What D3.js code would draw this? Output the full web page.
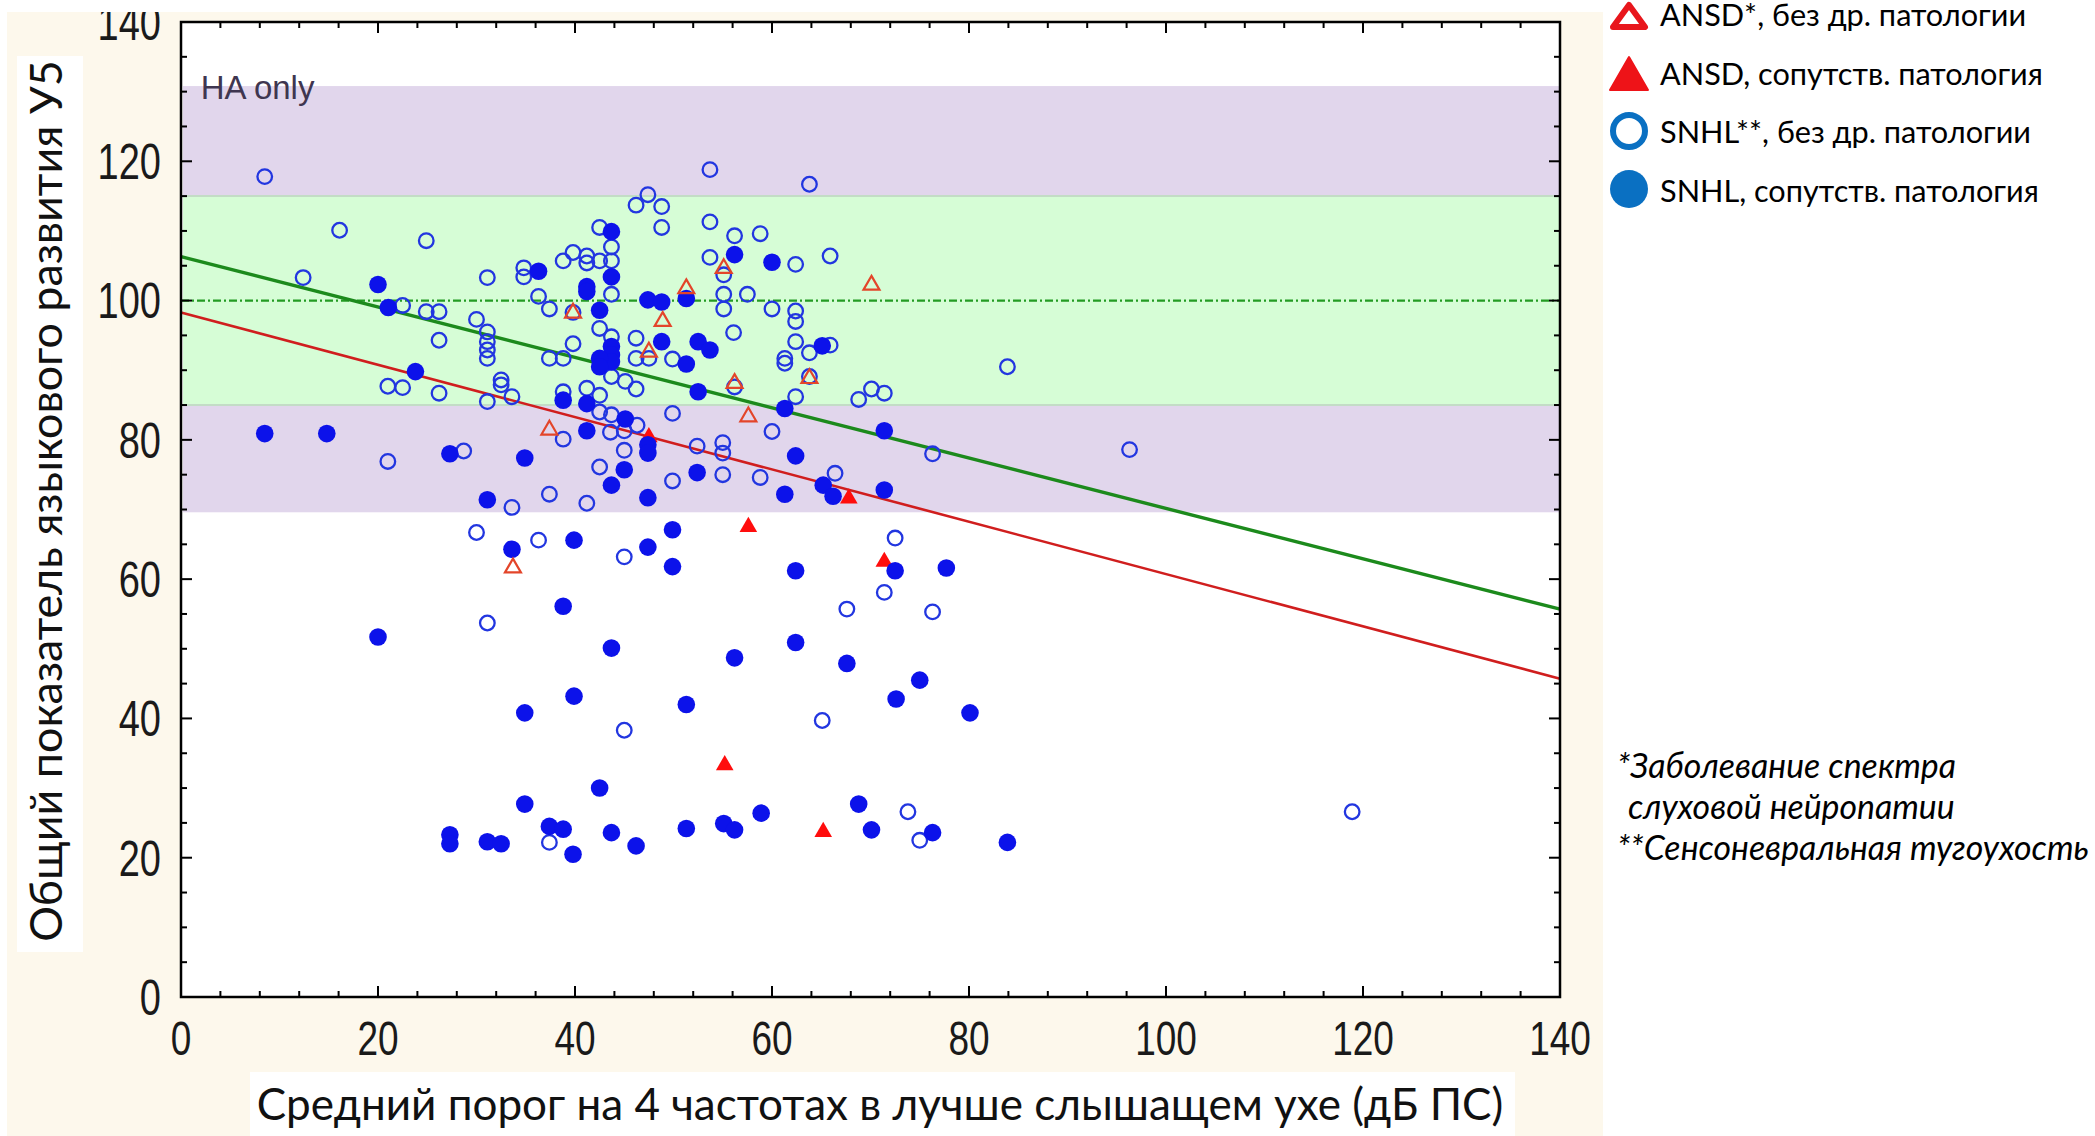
<!DOCTYPE html>
<html><head><meta charset="utf-8">
<script src="https://cdn.jsdelivr.net/npm/d3@7"></script>
<style>html,body{margin:0;padding:0;background:#fff;overflow:hidden}</style>
</head><body><svg id="c" width="2095" height="1136"></svg>
<script>
// ---------------- DATA ----------------
const xTicks = [0, 20, 40, 60, 80, 100, 120, 140];
const yTicks = [0, 20, 40, 60, 80, 100, 120, 140];
const xTitle = "Средний порог на 4 частотах в лучше слышащем ухе (дБ ПС)";
const yTitle = "Общий показатель языкового развития У5";
const bandLabel = "HA only";
const bandEdges = [69.6, 85, 115, 130.8];   // purple | green | purple
const refLevel = 100;
const fitNoPathology = [[0, 106.3], [140, 55.7]];
const fitPathology = [[0, 98.3], [140, 45.7]];
const legendLabels = ["ANSD*, без др. патологии", "ANSD, сопутств. патология", "SNHL**, без др. патологии", "SNHL, сопутств. патология"];
const footnotes = ["*Заболевание спектра", "слуховой нейропатии", "**Сенсоневральная тугоухость"];

const snhlNoPathology = [
 [8.5,117.8],[16.1,110.1],[24.9,108.6],[12.4,103.3],[31.1,103.3],[34.8,104.7],[34.8,103.4],[22.5,99.3],[24.9,98.4],[26.2,98.4],[30.0,97.3],[31.1,95.5],[31.1,94.1],[31.1,92.9],[31.1,91.7],[26.2,94.3],[21.0,87.7],[22.5,87.5],[26.2,86.7],[31.1,85.5],[32.5,88.6],[32.5,87.9],[33.6,86.2],
 [53.7,118.8],[63.8,116.7],[47.4,115.2],[46.2,113.7],[48.8,113.5],[48.8,110.5],[42.5,110.5],[53.7,111.3],[56.2,109.3],[58.8,109.6],[43.7,107.7],[53.7,106.2],[62.4,105.2],[65.9,106.4],[38.8,105.7],[39.8,106.9],[41.2,106.4],[41.2,105.4],[42.5,105.7],[43.7,105.7],[43.7,100.9],[36.3,100.6],[37.4,98.8],[39.8,98.3],[55.1,103.7],[55.1,100.9],[55.1,98.8],[57.5,100.9],[60.0,98.8],[62.4,98.5],[62.4,97.0],[62.4,94.1],[63.8,92.5],[61.3,91.7],[61.3,91.0],[63.8,89.1],[56.1,95.4],[46.2,94.6],[47.5,91.7],[42.5,96.0],[43.7,94.8],[39.8,93.8],[37.4,91.7],[38.8,91.7],[46.2,91.7],[49.9,91.6],[43.7,89.1],[45.1,88.4],[46.2,87.3],[41.2,87.4],[42.5,86.4],[38.8,86.9],[56.2,87.6],[62.4,86.2],[49.9,83.8],[42.5,84.0],[43.7,83.6],
 [65.9,93.6],[83.9,90.5],[68.8,85.8],[70.1,87.3],[71.4,86.7],
 [21.0,76.9],[28.7,78.4],[33.6,70.3],[30.0,66.7],[31.1,53.7],
 [38.8,80.1],[43.6,81.1],[45.0,81.3],[46.3,82.1],[45.0,78.5],[42.5,76.1],[37.4,72.2],[41.2,70.9],[49.9,74.1],[52.4,79.1],[55.0,79.6],[55.0,78.1],[55.0,75.0],[58.8,74.6],[60.0,81.2],[36.3,65.6],[45.0,63.2],
 [76.3,78.0],[66.4,75.2],[72.5,65.9],[71.4,58.1],[67.6,55.7],[76.3,55.3],
 [96.3,78.6],[118.9,26.6],[45.0,38.3],[37.4,22.2],[65.1,39.7],[73.8,26.6],[75.0,22.5]
];
const snhlPathology = [
 [20.0,102.3],[21.05,99.0],[23.8,89.8],
 [43.7,109.9],[56.2,106.6],[60.0,105.5],[36.3,104.2],[43.7,103.4],[41.2,102.0],[41.2,101.3],[42.5,98.6],[47.4,100.1],[48.8,99.8],[51.3,100.3],[65.1,93.5],[52.5,94.1],[53.7,92.9],[48.8,94.1],[43.7,93.4],[43.7,92.2],[43.7,91.2],[42.5,91.7],[42.5,90.5],[51.3,90.9],[38.8,85.7],[41.2,85.2],[52.5,86.9],[61.3,84.5],[45.1,83.0],
 [8.5,80.9],[14.8,80.9],[27.3,78.0],[34.9,77.4],[31.1,71.4],[33.6,64.3],[20.0,51.7],
 [41.2,81.3],[47.4,79.3],[47.4,78.1],[45.0,75.7],[43.7,73.5],[47.4,71.7],[52.4,75.3],[62.4,77.7],[61.3,72.2],[65.2,73.5],[49.9,67.1],[39.9,65.6],[47.4,64.6],[49.9,61.8],[62.4,61.2],[38.8,56.1],[43.7,50.1],[56.2,48.7],[62.4,50.9],[39.9,43.2],
 [71.4,81.3],[66.2,71.9],[71.4,72.8],[72.5,61.2],[77.7,61.6],[67.6,47.9],[75.0,45.5],[72.6,42.8],
 [34.9,40.8],[42.5,30.0],[34.9,27.7],[27.3,23.3],[27.3,22.0],[31.1,22.3],[32.5,22.0],[37.4,24.5],[38.8,24.1],[39.8,20.5],[43.7,23.6],[46.2,21.7],
 [51.3,42.0],[80.1,40.8],[51.3,24.2],[55.1,24.9],[56.2,24.0],[58.9,26.4],[68.8,27.7],[70.1,24.0],[76.3,23.6],[83.9,22.2]
];
const ansdNoPathology = [[39.8,98.5],[51.3,102.0],[48.9,97.3],[55.1,104.9],[63.8,89.1],[47.5,92.9],[56.2,88.4],[57.6,83.6],[70.1,102.5],[37.4,81.7],[33.7,61.9]];
const ansdPathology = [[47.5,80.7],[57.6,67.8],[67.8,71.9],[71.4,62.8],[55.2,33.6],[65.2,24.0]];

// ---------------- LAYOUT ----------------
const svg = d3.select("#c");
const L = 181, R = 1560, T = 22, B = 997;
const x = d3.scaleLinear().domain([0, 140]).range([L, R]);
const y = d3.scaleLinear().domain([0, 140]).range([B, T]);

const defs = svg.append("defs");
defs.append("clipPath").attr("id", "chartClip").append("rect")
  .attr("x", 7).attr("y", 12).attr("width", 1596).attr("height", 1124);

const chart = svg.append("g").attr("clip-path", "url(#chartClip)");
chart.append("rect").attr("x", 7).attr("y", 12).attr("width", 1596).attr("height", 1124).attr("fill", "#fdf8ec");

// plot background
chart.append("rect").attr("x", L).attr("y", T).attr("width", R - L).attr("height", B - T).attr("fill", "#fff");

// bands
const bandColors = ["#e1d6ec", "#d6fdd6", "#e1d6ec"];
for (let i = 0; i < 3; i++) {
  chart.append("rect").attr("x", x(0) + 2).attr("width", x(140) - x(0) - 2)
    .attr("y", y(bandEdges[i + 1])).attr("height", y(bandEdges[i]) - y(bandEdges[i + 1]))
    .attr("fill", bandColors[i]);
}
[bandEdges[1], bandEdges[2]].forEach(v => {
  chart.append("line").attr("x1", x(0) + 2).attr("x2", x(140)).attr("y1", y(v)).attr("y2", y(v))
    .attr("stroke", "#c3dcc6").attr("stroke-width", 2);
});
chart.append("text").attr("x", x(2)).attr("y", y(128.9)).text(bandLabel)
  .attr("font-family", "Liberation Sans, Arial, sans-serif").attr("font-size", 33).attr("fill", "#3f3650");

// reference line
chart.append("line").attr("x1", x(0)).attr("x2", x(140)).attr("y1", y(refLevel)).attr("y2", y(refLevel))
  .attr("stroke", "#239b23").attr("stroke-width", 2.2).attr("stroke-dasharray", "8,3,2,3");

// fit lines
const line = d3.line().x(d => x(d[0])).y(d => y(d[1]));
chart.append("path").attr("d", line(fitPathology)).attr("stroke", "#d01e1e").attr("stroke-width", 2.6).attr("fill", "none");
chart.append("path").attr("d", line(fitNoPathology)).attr("stroke", "#1c8a1c").attr("stroke-width", 3.4).attr("fill", "none");

// markers
const triUp = (cx, cy, s) => `M${cx},${cy - s * 0.5}L${cx + s * 0.55},${cy + s * 0.45}L${cx - s * 0.55},${cy + s * 0.45}Z`;
chart.append("g").selectAll("circle").data(snhlNoPathology).join("circle")
  .attr("cx", d => x(d[0])).attr("cy", d => y(d[1])).attr("r", 7.3)
  .attr("fill", "none").attr("stroke", "#2236e0").attr("stroke-width", 2.3);
chart.append("g").selectAll("path").data(ansdPathology).join("path")
  .attr("d", d => triUp(x(d[0]), y(d[1]), 16)).attr("fill", "#ff0d0d");
chart.append("g").selectAll("circle").data(snhlPathology).join("circle")
  .attr("cx", d => x(d[0])).attr("cy", d => y(d[1])).attr("r", 8.8)
  .attr("fill", "#0c12ea");
chart.append("g").selectAll("path").data(ansdNoPathology).join("path")
  .attr("d", d => triUp(x(d[0]), y(d[1]), 14.5)).attr("fill", "none").attr("stroke", "#e3452a").attr("stroke-width", 2.2);

// frame
chart.append("rect").attr("x", L).attr("y", T).attr("width", R - L).attr("height", B - T)
  .attr("fill", "none").attr("stroke", "#000").attr("stroke-width", 2.5);

// ticks (inward), major every 20, minor x every 4, y every 5
const tk = chart.append("g").attr("stroke", "#000").attr("stroke-width", 2);
d3.range(0, 141, 4).forEach(v => {
  const len = v % 20 === 0 ? 11 : 6;
  tk.append("line").attr("x1", x(v)).attr("x2", x(v)).attr("y1", B).attr("y2", B - len);
  tk.append("line").attr("x1", x(v)).attr("x2", x(v)).attr("y1", T).attr("y2", T + len);
});
d3.range(0, 141, 5).forEach(v => {
  const len = v % 20 === 0 ? 11 : 6;
  tk.append("line").attr("x1", L).attr("x2", L + len).attr("y1", y(v)).attr("y2", y(v));
  tk.append("line").attr("x1", R).attr("x2", R - len).attr("y1", y(v)).attr("y2", y(v));
});

// tick labels (vertically stretched like the source)
const numFont = "Liberation Sans, Arial, sans-serif";
const sy = 1.3;
chart.append("g").selectAll("g").data(xTicks).join("g")
  .attr("transform", d => `translate(${x(d)},${1055}) scale(1,${sy})`)
  .append("text").attr("text-anchor", "middle").attr("font-family", numFont).attr("font-size", 37)
  .attr("fill", "#1a1a1a").text(d => d);
chart.append("g").selectAll("g").data(yTicks).join("g")
  .attr("transform", d => `translate(${161},${y(d)}) scale(1,${sy})`)
  .append("text").attr("text-anchor", "end").attr("dy", "0.36em").attr("font-family", numFont).attr("font-size", 38)
  .attr("fill", "#1a1a1a").text(d => d);

// axis titles with white boxes
const titleFont = "Lato, 'Open Sans', sans-serif";
function fit(sel, target) {
  const w = sel.node().getComputedTextLength();
  const fs = parseFloat(sel.attr("font-size"));
  sel.attr("font-size", fs * target / w);
}
chart.append("rect").attr("x", 250).attr("y", 1072).attr("width", 1265).attr("height", 64).attr("fill", "#fff");
const xt = chart.append("text").attr("x", 880).attr("y", 1120).attr("text-anchor", "middle")
  .attr("font-family", titleFont).attr("font-size", 40).attr("fill", "#111").text(xTitle);
fit(xt, 1247);

chart.append("rect").attr("x", 17).attr("y", 56).attr("width", 66).attr("height", 896).attr("fill", "#fff");
const yt = chart.append("text").attr("transform", `translate(62,501) rotate(-90)`).attr("text-anchor", "middle")
  .attr("font-family", titleFont).attr("font-size", 40).attr("fill", "#111").text(yTitle);
fit(yt, 882);

// ---------------- LEGEND ----------------
const lg = svg.append("g");
const rowY = [26, 85, 143, 202];
const mx = 1629;
lg.append("path").attr("d", `M${mx},${5}L${mx + 16},${27}L${mx - 16},${27}Z`).attr("fill", "none")
  .attr("stroke", "#e8161c").attr("stroke-width", 6).attr("stroke-linejoin", "round");
lg.append("path").attr("d", `M${mx},${57}L${mx + 19},${90}L${mx - 19},${90}Z`).attr("fill", "#ee1318")
  .attr("stroke", "#ee1318").attr("stroke-width", 2).attr("stroke-linejoin", "round");
lg.append("circle").attr("cx", mx).attr("cy", 131).attr("r", 16).attr("fill", "none").attr("stroke", "#0a70c2").attr("stroke-width", 6);
lg.append("circle").attr("cx", mx).attr("cy", 189).attr("r", 19).attr("fill", "#0a70c2");
const lt = lg.selectAll("text").data(legendLabels).join("text")
  .attr("x", 1660).attr("y", (d, i) => rowY[i]).attr("font-family", titleFont).attr("font-size", 30).attr("fill", "#000").text(d => d);
{
  const n = lt.nodes()[1];
  const f = 30 * 383 / n.getComputedTextLength();
  lt.attr("font-size", f);
}

// footnotes
const fnX = [1617, 1628, 1617], fnY = [778, 819, 860];
const ft = svg.append("g").selectAll("text").data(footnotes).join("text")
  .attr("x", (d, i) => fnX[i]).attr("y", (d, i) => fnY[i]).attr("font-family", titleFont).attr("font-style", "italic")
  .attr("font-size", 28).attr("fill", "#000").text(d => d);
{
  const n = ft.nodes()[2];
  const f = 28 * 472 / n.getComputedTextLength();
  ft.attr("font-size", f);
}
</script></body></html>
